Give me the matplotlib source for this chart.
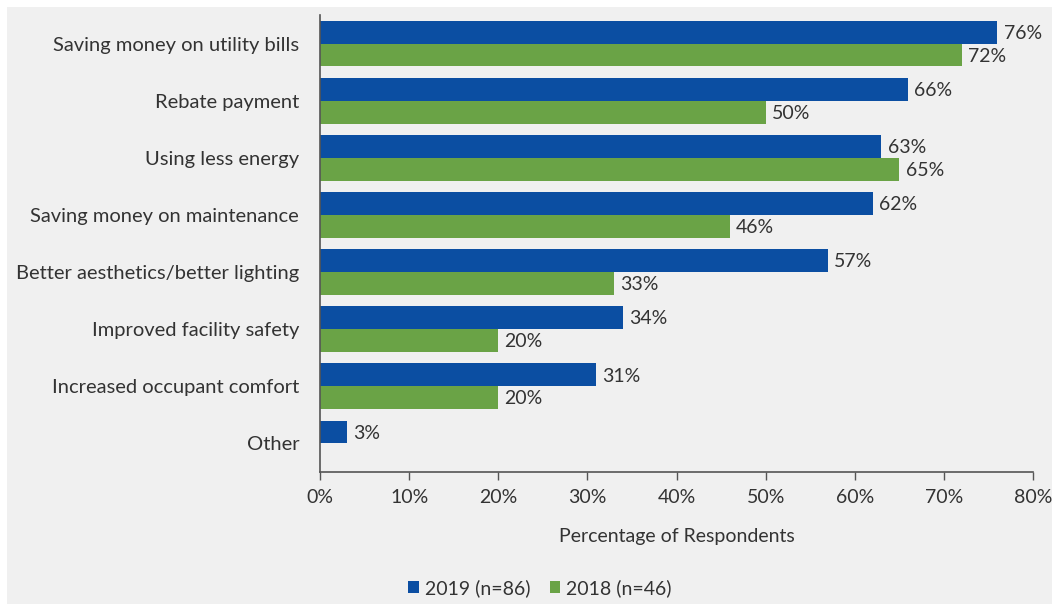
import matplotlib.pyplot as plt
import numpy as np
from matplotlib.patches import Rectangle
from matplotlib.ticker import PercentFormatter

categories = ["Saving money on utility bills", "Rebate payment", "Using less energy",
              "Saving money on maintenance", "Better aesthetics/better lighting",
              "Improved facility safety", "Increased occupant comfort", "Other"]
vals_2019 = [76, 66, 63, 62, 57, 34, 31, 3]
vals_2018 = [72, 50, 65, 46, 33, 20, 20, None]
series_names = ["2019 (n=86)", "2018 (n=46)"]

blue = "#0b4ea2"
green = "#6aa346"
bg = "#f0f0f0"
txt = "#333333"

plt.rcParams['font.family'] = ['Lato', 'DejaVu Sans']

fig = plt.figure(figsize=(10.52, 6.06), dpi=100)
fig.patch.set_facecolor("white")
# grey panel behind everything, thin white margin on top/left
fig.patches.append(Rectangle((7/1052, 2/606), 1 - 7/1052, 1 - 9/606,
                             transform=fig.transFigure, facecolor=bg,
                             edgecolor="none", zorder=-1))

ax = fig.add_axes([320/1052, 1 - 472/606, 713/1052, 457/606])
ax.set_facecolor(bg)

y = np.arange(len(categories))
h = 0.4
v18 = [np.nan if v is None else v for v in vals_2018]
b1 = ax.barh(y - h/2, vals_2019, height=h, color=blue, label=series_names[0])
b2 = ax.barh(y + h/2, v18, height=h, color=green, label=series_names[1])

fs = 14
for rect, v in zip(b1, vals_2019):
    ax.text(v + 0.7, rect.get_y() + rect.get_height()/2 + 0.02, f"{v}%",
            va="center", ha="left", fontsize=fs, color=txt)
for rect, v in zip(b2, vals_2018):
    if v is None:
        continue
    ax.text(v + 0.7, rect.get_y() + rect.get_height()/2 + 0.02, f"{v}%",
            va="center", ha="left", fontsize=fs, color=txt)

ax.set_xlim(0, 80)
ax.set_ylim(len(categories) - 0.5, -0.5)
ax.set_xticks(np.arange(0, 81, 10))
ax.xaxis.set_major_formatter(PercentFormatter(decimals=0))
ax.set_yticks(y)
ax.set_yticklabels(categories)
ax.tick_params(axis="y", length=0, pad=15, labelsize=14.5, labelcolor=txt)
ax.tick_params(axis="x", length=6, width=1, color="#555555", pad=6,
               labelsize=fs, labelcolor=txt)

for s in ["top", "right"]:
    ax.spines[s].set_visible(False)
for s in ["left", "bottom"]:
    ax.spines[s].set_color("#555555")
    ax.spines[s].set_linewidth(1.2)

ax.set_xlabel("Percentage of Respondents", fontsize=fs, color=txt, labelpad=16)

fig.legend(handles=[b1, b2], labels=series_names, loc="center",
           bbox_to_anchor=(540/1052, 1 - 588/606), ncol=2, frameon=False,
           fontsize=fs, handlelength=0.55, handleheight=0.55,
           handletextpad=0.3, columnspacing=1.0, labelcolor=txt)

fig.savefig("out.png", dpi=100, facecolor=fig.get_facecolor())
